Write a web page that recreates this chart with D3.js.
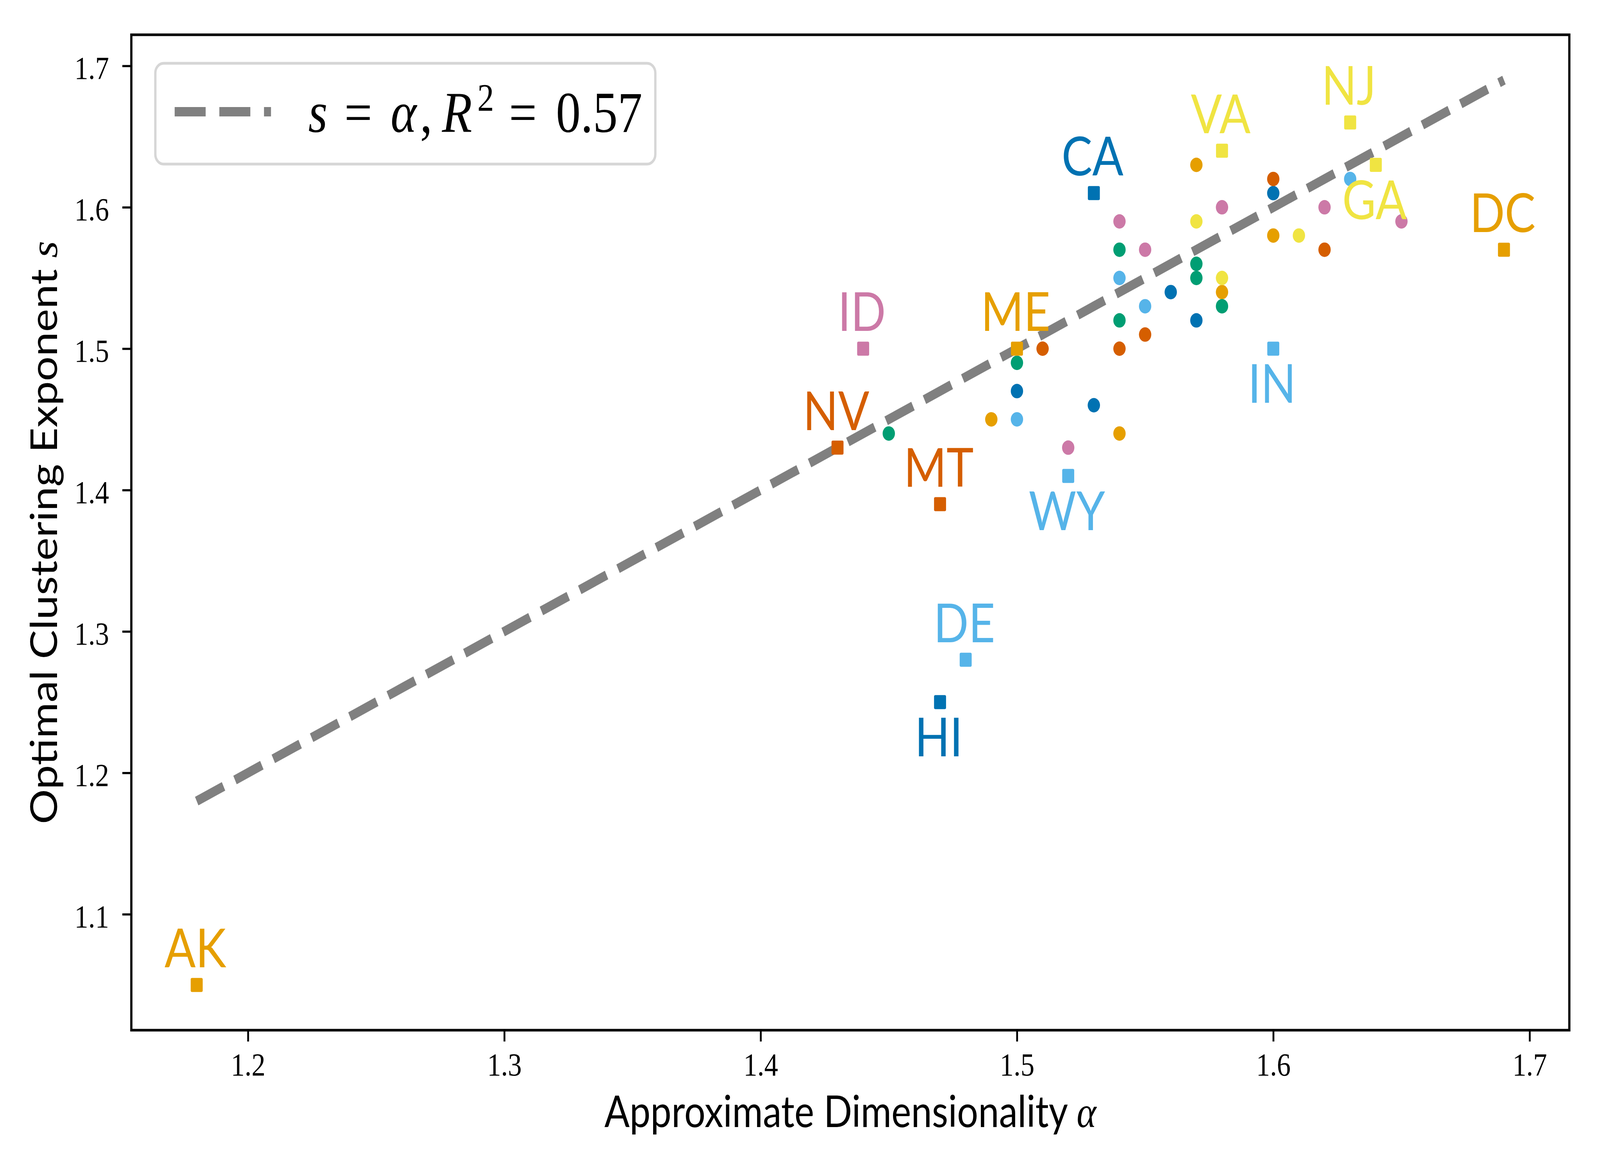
<!DOCTYPE html>
<html>
<head>
<meta charset="utf-8">
<script src="https://cdn.jsdelivr.net/npm/d3@7"></script>
<style>
html, body { margin: 0; padding: 0; background: #ffffff; overflow: hidden; }
svg { display: block; width: 100vw; height: 100vh; }
.sans { font-family: Lato, "Open Sans", sans-serif; }
.serif { font-family: "Liberation Serif", "DejaVu Serif", serif; }
</style>
</head>
<body>
<svg id="chart" viewBox="0 0 4800 3000" preserveAspectRatio="none"></svg>
<script>
// Okabe-Ito colours, cycled over the states in alphabetical order
var palette = ["#E69F00", "#56B4E9", "#009E73", "#F0E442", "#0072B2", "#D55E00", "#CC79A7"];

// labelled states, drawn as squares
var outlierStates = ["AK", "CA", "DC", "DE", "GA", "HI", "ID", "IN", "ME", "MT", "NJ", "NV", "VA", "WY"];
var outlierAlpha  = [1.18, 1.53, 1.69, 1.48, 1.64, 1.47, 1.44, 1.60, 1.50, 1.47, 1.63, 1.43, 1.58, 1.52];
var outlierS      = [1.05, 1.61, 1.57, 1.28, 1.63, 1.25, 1.50, 1.50, 1.50, 1.39, 1.66, 1.43, 1.64, 1.41];
var outlierColor  = [0, 4, 0, 1, 3, 4, 6, 1, 0, 5, 3, 5, 3, 1];
var labelBelow    = ["GA", "HI", "IN", "WY"];

// remaining states, drawn as dots
var otherAlpha = [1.49, 1.54, 1.57, 1.58, 1.60,
                  1.50, 1.54, 1.55, 1.63,
                  1.45, 1.50, 1.54, 1.54, 1.57, 1.57, 1.58,
                  1.57, 1.58, 1.61,
                  1.50, 1.53, 1.56, 1.57, 1.60,
                  1.51, 1.54, 1.55, 1.60, 1.62,
                  1.52, 1.54, 1.55, 1.58, 1.62, 1.65];
var otherS     = [1.45, 1.44, 1.63, 1.54, 1.58,
                  1.45, 1.55, 1.53, 1.62,
                  1.44, 1.49, 1.57, 1.52, 1.56, 1.55, 1.53,
                  1.59, 1.55, 1.58,
                  1.47, 1.46, 1.54, 1.52, 1.61,
                  1.50, 1.50, 1.51, 1.62, 1.57,
                  1.43, 1.59, 1.57, 1.60, 1.60, 1.59];
var otherColor = [0, 0, 0, 0, 0,
                  1, 1, 1, 1,
                  2, 2, 2, 2, 2, 2, 2,
                  3, 3, 3,
                  4, 4, 4, 4, 4,
                  5, 5, 5, 5, 5,
                  6, 6, 6, 6, 6, 6];

var fitEnds = [1.18, 1.69];
var rSquared = 0.57;
var xTicks = [1.2, 1.3, 1.4, 1.5, 1.6, 1.7];
var yTicks = [1.1, 1.2, 1.3, 1.4, 1.5, 1.6, 1.7];

var meta = {};

function padded(values)
{
    var ext = d3.extent(values);
    var pad = (ext[1] - ext[0]) * 0.05;
    return [ext[0] - pad, ext[1] + pad];
}

function buildChart()
{
    meta.left = 394;
    meta.right = 4708;
    meta.top = 89;
    meta.bottom = 2637;

    var svg = d3.select("#chart");
    svg.append("rect").attr("width", 4800).attr("height", 3000).attr("fill", "#ffffff");

    var points = [];
    outlierStates.forEach(function(st, i) {
        points.push({state: st, a: outlierAlpha[i], s: outlierS[i], c: palette[outlierColor[i]], square: true});
    });
    otherAlpha.forEach(function(a, i) {
        points.push({state: null, a: a, s: otherS[i], c: palette[otherColor[i]], square: false});
    });

    var xScale = d3.scaleLinear()
        .domain(padded(points.map(d => d.a).concat(fitEnds)))
        .range([meta.left, meta.right]);
    var yScale = d3.scaleLinear()
        .domain(padded(points.map(d => d.s).concat(fitEnds)))
        .range([meta.bottom, meta.top]);

    // x axis
    var xAxis = svg.append("g")
        .attr("transform", `translate(0, ${meta.bottom})`)
        .call(d3.axisBottom(xScale).tickValues(xTicks).tickFormat(d3.format(".1f"))
            .tickSize(29).tickPadding(28));
    xAxis.select(".domain").remove();
    xAxis.selectAll(".tick line").attr("stroke", "#000").attr("stroke-width", 5.5);
    xAxis.selectAll(".tick text")
        .attr("class", "serif")
        .attr("font-size", 83)
        .attr("fill", "#000");

    // y axis
    var yAxis = svg.append("g")
        .attr("transform", `translate(${meta.left}, 0)`)
        .call(d3.axisLeft(yScale).tickValues(yTicks).tickFormat(d3.format(".1f"))
            .tickSize(27).tickPadding(40));
    yAxis.select(".domain").remove();
    yAxis.selectAll(".tick line").attr("stroke", "#000").attr("stroke-width", 5.5);
    yAxis.selectAll(".tick text")
        .attr("class", "serif")
        .attr("font-size", 83)
        .attr("dy", "0.40em")
        .attr("fill", "#000");

    // s = alpha reference line
    svg.append("line")
        .attr("x1", xScale(fitEnds[0])).attr("y1", yScale(fitEnds[0]))
        .attr("x2", xScale(fitEnds[1])).attr("y2", yScale(fitEnds[1]))
        .attr("stroke", "#808080")
        .attr("stroke-width", 24)
        .attr("stroke-dasharray", "89 38");

    var dots = points.filter(d => !d.square);
    svg.append("g").selectAll("circle")
        .data(dots)
        .enter()
        .append("circle")
        .attr("cx", d => xScale(d.a))
        .attr("cy", d => yScale(d.s))
        .attr("r", 18.5)
        .attr("fill", d => d.c);

    var squares = points.filter(d => d.square);
    svg.append("g").selectAll("rect")
        .data(squares)
        .enter()
        .append("rect")
        .attr("x", d => xScale(d.a) - 18)
        .attr("y", d => yScale(d.s) - 18)
        .attr("width", 36)
        .attr("height", 36)
        .attr("rx", 4)
        .attr("fill", d => d.c);

    svg.append("g").selectAll("text")
        .data(squares)
        .enter()
        .append("text")
        .attr("class", "sans")
        .attr("font-size", 138)
        .attr("text-anchor", "middle")
        .attr("x", d => xScale(d.a) - 4)
        .attr("y", d => labelBelow.indexOf(d.state) >= 0 ? yScale(d.s) + 139 : yScale(d.s) - 45)
        .attr("fill", d => d.c)
        .text(d => d.state);

    // frame
    svg.append("rect")
        .attr("x", meta.left).attr("y", meta.top)
        .attr("width", meta.right - meta.left)
        .attr("height", meta.bottom - meta.top)
        .attr("fill", "none")
        .attr("stroke", "#000")
        .attr("stroke-width", 6.7);

    // axis titles
    var xt = svg.append("text")
        .attr("class", "sans")
        .attr("font-size", 112)
        .attr("text-anchor", "middle")
        .attr("x", (meta.left + meta.right) / 2)
        .attr("y", 2885);
    xt.append("tspan").text("Approximate Dimensionality ");
    xt.append("tspan").attr("class", "serif").attr("font-style", "italic").text("α");

    var yt = svg.append("text")
        .attr("class", "sans")
        .attr("font-size", 112)
        .attr("text-anchor", "middle")
        .attr("transform", `translate(171, ${(meta.top + meta.bottom) / 2}) rotate(-90)`);
    yt.append("tspan").text("Optimal Clustering Exponent ");
    yt.append("tspan").attr("class", "serif").attr("font-style", "italic").text("s");

    buildLegend(svg);
}

function buildLegend(svg)
{
    var lx = 466, ly = 162;
    var g = svg.append("g").attr("transform", `translate(${lx}, ${ly})`);
    g.append("rect")
        .attr("width", 1500).attr("height", 258)
        .attr("rx", 25)
        .attr("fill", "#ffffff").attr("fill-opacity", 0.8)
        .attr("stroke", "#d6d6d6")
        .attr("stroke-width", 7);
    g.append("line")
        .attr("x1", 58).attr("x2", 347)
        .attr("y1", 124).attr("y2", 124)
        .attr("stroke", "#808080")
        .attr("stroke-width", 24)
        .attr("stroke-dasharray", "93 41");

    var t = g.append("text").attr("class", "serif").attr("font-size", 148).attr("fill", "#000");
    var parts = [
        {x: 459, y: 176, size: 148, txt: "s", it: true},
        {x: 567, y: 176, size: 148, txt: "=", it: false},
        {x: 706, y: 176, size: 148, txt: "α", it: true},
        {x: 794, y: 176, size: 148, txt: ",", it: false},
        {x: 860, y: 176, size: 148, txt: "R", it: true},
        {x: 966, y: 121, size: 100, txt: "2", it: false},
        {x: 1061, y: 176, size: 148, txt: "=", it: false},
        {x: 1202, y: 176, size: 148, txt: d3.format(".2f")(rSquared), it: false}
    ];
    parts.forEach(function(p) {
        t.append("tspan")
            .attr("x", p.x)
            .attr("y", p.y)
            .attr("font-size", p.size)
            .attr("font-style", p.it ? "italic" : "normal")
            .text(p.txt);
    });
}

buildChart();
</script>
</body>
</html>
